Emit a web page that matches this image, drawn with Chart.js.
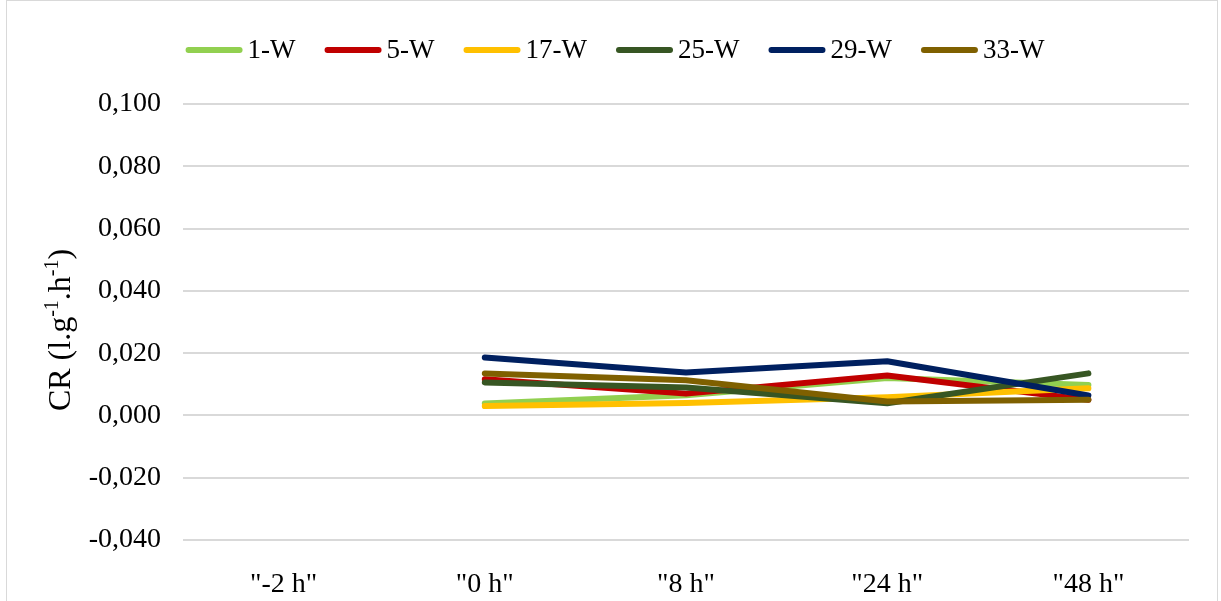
<!DOCTYPE html>
<html lang="en">
<head>
    <meta charset="UTF-8">
    <title>CR chart</title>
    <script src="https://cdn.jsdelivr.net/npm/chart.js"></script>
    <style>
        body { margin: 0; background: #fff; overflow: hidden; }
        #frame { position: absolute; left: 6px; top: 0; width: 1210px; height: 620px; border: 1px solid #d9d9d9; }
        #myChart { position: absolute; left: 0; top: 0; }
    </style>
</head>
<body>
    <div id="frame"></div>
    <canvas id="myChart" width="1221" height="601"></canvas>
    <script>
        const categories = ['"-2 h"', '"0 h"', '"8 h"', '"24 h"', '"48 h"'];
        const w1  = [null, 0.0038, 0.0065, 0.0120, 0.0098];
        const w5  = [null, 0.0116, 0.0070, 0.0128, 0.0050];
        const w17 = [null, 0.0030, 0.0040, 0.0058, 0.0087];
        const w25 = [null, 0.0106, 0.0090, 0.0039, 0.0135];
        const w29 = [null, 0.0186, 0.0138, 0.0174, 0.0064];
        const w33 = [null, 0.0135, 0.0113, 0.0045, 0.0050];

        const serif = '"Liberation Serif", "Times New Roman", serif';

        // later series sit on top, like the spreadsheet original
        function ds(label, data, color, idx) {
            return { label, data, borderColor: color, backgroundColor: color, borderWidth: 6, order: 10 - idx,
                     pointRadius: 0, fill: false, tension: 0, borderCapStyle: 'round', borderJoinStyle: 'round' };
        }

        // legend + y axis title drawn by hand (tight spacing like the original)
        const extras = {
            id: 'extras',
            afterDraw(chart) {
                const c = chart.ctx;
                c.save();
                // legend
                c.font = '27px ' + serif;
                c.textBaseline = 'middle';
                const boxW = 57, gapText = 5, gapItem = 29;
                const items = chart.data.datasets;
                let total = 0;
                items.forEach((d, i) => {
                    total += boxW + gapText + c.measureText(d.label).width + (i < items.length - 1 ? gapItem : 0);
                });
                let x = 615 - total / 2;
                const ly = 50;
                items.forEach(d => {
                    c.strokeStyle = d.borderColor;
                    c.lineWidth = 6;
                    c.lineCap = 'round';
                    c.beginPath();
                    c.moveTo(x + 3, ly);
                    c.lineTo(x + boxW - 3, ly);
                    c.stroke();
                    c.fillStyle = '#000';
                    c.fillText(d.label, x + boxW + gapText, ly + 1);
                    x += boxW + gapText + c.measureText(d.label).width + gapItem;
                });
                // y title
                c.translate(60, 330);
                c.rotate(-Math.PI / 2);
                c.textBaseline = 'alphabetic';
                const parts = [['CR (l.g', 32, 0], ['-1', 20, -12], ['.h', 32, 0], ['-1', 20, -12], [')', 32, 0]];
                let tw = 0;
                parts.forEach(p => { c.font = p[1] + 'px ' + serif; tw += c.measureText(p[0]).width; });
                let tx = -tw / 2;
                parts.forEach(p => {
                    c.font = p[1] + 'px ' + serif;
                    c.fillText(p[0], tx, 10 + p[2]);
                    tx += c.measureText(p[0]).width;
                });
                c.restore();
            }
        };

        new Chart(document.getElementById('myChart'), {
            type: 'line',
            data: {
                labels: categories,
                datasets: [
                    ds('1-W', w1, '#92d050', 0),
                    ds('5-W', w5, '#c00000', 1),
                    ds('17-W', w17, '#ffc000', 2),
                    ds('25-W', w25, '#375623', 3),
                    ds('29-W', w29, '#002060', 4),
                    ds('33-W', w33, '#7f6000', 5)
                ]
            },
            options: {
                responsive: false,
                animation: false,
                layout: { padding: { left: 0, right: 32, top: 104, bottom: 0 } },
                plugins: {
                    legend: { display: false },
                    tooltip: { enabled: false }
                },
                scales: {
                    x: {
                        offset: true,
                        afterFit: s => { s.height = 61; },
                        grid: { display: false },
                        border: { display: false },
                        ticks: { color: '#000', font: { family: serif, size: 28 }, padding: 20, maxRotation: 0 }
                    },
                    y: {
                        min: -0.04, max: 0.1,
                        afterFit: s => { s.width = 183; },
                        grid: { color: '#d9d9d9', lineWidth: 2, drawTicks: false },
                        border: { display: false },
                        ticks: {
                            stepSize: 0.02, color: '#000', padding: 22,
                            font: { family: serif, size: 28 },
                            callback: v => (v < 0 ? '-' : '') + Math.abs(v).toFixed(3).replace('.', ',')
                        }
                    }
                }
            },
            plugins: [extras]
        });
    </script>
</body>
</html>
